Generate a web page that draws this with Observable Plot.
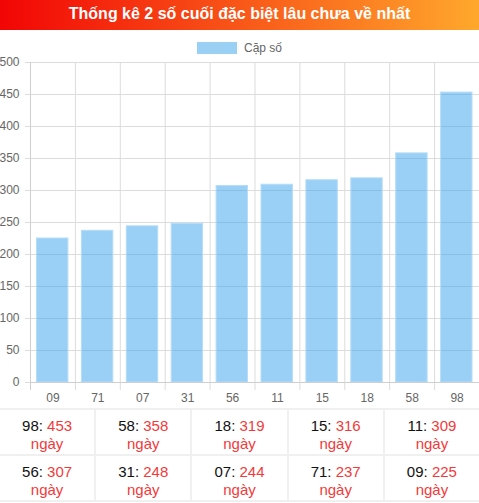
<!DOCTYPE html>
<html>
<head>
<meta charset="utf-8">
<script src="https://cdn.jsdelivr.net/npm/d3@7"></script>
<script src="https://cdn.jsdelivr.net/npm/@observablehq/plot@0.6"></script>
<style>
  html, body { margin: 0; padding: 0; background: #fff; }
  body { width: 479px; font-family: "Liberation Sans", Arial, sans-serif; }
  #title { height: 30px; line-height: 28px; text-align: center; color: #fff; font-weight: bold; font-size: 16px;
    background: linear-gradient(to right, #f20505, #ffa82c); }
  #legend { height: 26px; box-sizing: border-box; padding-top: 10px; display: flex; justify-content: center; align-items: center; font-size: 12px; color: #666; }
  #legend .sw { width: 40px; height: 12px; background: #9bd0f5; margin-right: 7px; }
  #legend .lab { line-height: 12px; }
  #chart svg { display: block; }
  #table { display: grid; grid-template-columns: repeat(5, 1fr); gap: 2px; background: #f0f0f0; border-top: 2px solid #f0f0f0; border-bottom: 2px solid #f0f0f0; width: 479px; }
  #table .cell { background: #fff; text-align: center; font-size: 15px; line-height: 18px; height: 44px; box-sizing: border-box; padding-top: 7px; }
  #table .k { color: #111; }
  #table .v { color: #f23a3a; }
</style>
</head>
<body>
<div id="title">Thống kê 2 số cuối đặc biệt lâu chưa về nhất</div>
<div id="legend"><span class="sw"></span><span class="lab">Cặp số</span></div>
<div id="chart"></div>
<div id="table"></div>
<script>
const pairs = ["09", "71", "07", "31", "56", "11", "15", "18", "58", "98"];
const days = [225, 237, 244, 248, 307, 309, 316, 319, 358, 453];
const yTicks = [0, 50, 100, 150, 200, 250, 300, 350, 400, 450, 500];
const seriesName = "Cặp số";
const unit = "ngày";

const data = pairs.map((p, i) => ({pair: p, days: days[i]}));
const W = 479, H = 352, ML = 30, MR = 0;
const bw = (W - ML - MR) / pairs.length;

const chart = Plot.plot({
  width: W, height: H,
  marginLeft: ML, marginRight: MR, marginTop: 6, marginBottom: 26,
  style: {fontFamily: '"Liberation Sans", Arial, sans-serif', fontSize: "12px", color: "#666"},
  x: {domain: pairs, padding: 0, round: false, label: null},
  y: {domain: [0, 500], label: null},
  marks: [
    Plot.ruleY(yTicks, {stroke: "#dcdcdc", strokeWidth: 1, insetLeft: -5}),
    Plot.ruleX(pairs.slice(1), {x: d => d, dx: -bw / 2, stroke: "#dcdcdc", insetBottom: -8}),
    Plot.ruleX([pairs[0]], {x: d => d, dx: -bw / 2, stroke: "#cfcfcf", insetBottom: -8}),
    Plot.barY(data, {x: "pair", y: "days", fill: "rgb(54,162,235)", fillOpacity: 0.5, stroke: "#b5dcf8", strokeWidth: 1, insetLeft: 6.5, insetRight: 7}),
    Plot.ruleY([0], {stroke: "#cfcfcf"}),
    Plot.axisY({ticks: yTicks, tickSize: 0, tickPadding: 11, fill: "#666", fontSize: 12, label: null}),
    Plot.axisX({tickSize: 0, tickPadding: 11, fill: "#666", fontSize: 12, label: null})
  ]
});
document.getElementById("chart").appendChild(chart);

const sorted = data.slice().sort((a, b) => b.days - a.days);
const table = document.getElementById("table");
for (const d of sorted) {
  const c = document.createElement("div");
  c.className = "cell";
  c.innerHTML = `<span class="k">${d.pair}: </span><span class="v">${d.days}</span><br><span class="v">${unit}</span>`;
  table.appendChild(c);
}
</script>
</body>
</html>
